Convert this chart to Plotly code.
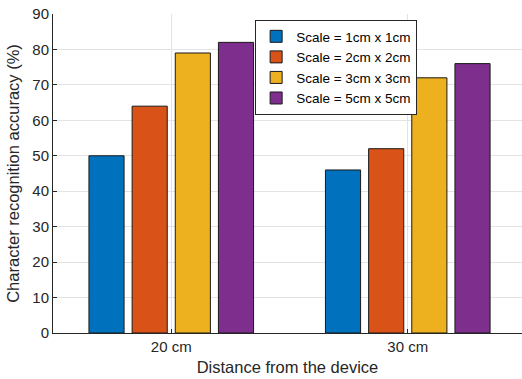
import plotly.graph_objects as go

categories = ["20 cm", "30 cm"]
series_names = ["Scale = 1cm x 1cm", "Scale = 2cm x 2cm", "Scale = 3cm x 3cm", "Scale = 5cm x 5cm"]
values_1cm = [50, 46]
values_2cm = [64, 52]
values_3cm = [79, 72]
values_5cm = [82, 76]
colors = ["#0072BD", "#D95319", "#EDB120", "#7E2F8E"]
y_ticks = [0, 10, 20, 30, 40, 50, 60, 70, 80, 90]

x_pos = [i + 1 for i in range(len(categories))]
all_vals = [values_1cm, values_2cm, values_3cm, values_5cm]

fig = go.Figure()
for name, vals, c in zip(series_names, all_vals, colors):
    fig.add_trace(go.Bar(x=x_pos, y=vals, name=name, marker=dict(color=c, line=dict(color="#1a1a1a", width=1))))

font_family = "Liberation Sans, Arial, sans-serif"
axis_col = "#262626"
fig.update_layout(
    width=522, height=379,
    margin=dict(l=53, r=0, t=14, b=46),
    paper_bgcolor="white", plot_bgcolor="white",
    barmode="group", bargap=0.27, bargroupgap=0.186,
    font=dict(family=font_family, size=15, color=axis_col),
    legend=dict(x=0.431, y=0.981, xanchor="left", yanchor="top",
                bgcolor="white", bordercolor=axis_col, borderwidth=1,
                font=dict(size=13.5, color="#000000"), tracegroupgap=0,
                itemwidth=30),
    showlegend=True,
)
fig.update_xaxes(range=[0.5, 2.483], tickvals=x_pos, ticktext=categories,
                 showgrid=True, gridcolor="#e3e3e3", gridwidth=1,
                 showline=True, linecolor=axis_col, linewidth=1,
                 ticks="inside", ticklen=4, tickcolor=axis_col,
                 tickfont=dict(size=15),
                 title=dict(text="Distance from the device", font=dict(size=16.5), standoff=7),
                 zeroline=False)
fig.update_yaxes(range=[0, 90], tickvals=y_ticks,
                 showgrid=True, gridcolor="#e3e3e3", gridwidth=1,
                 showline=True, linecolor=axis_col, linewidth=1,
                 ticks="inside", ticklen=4, tickcolor=axis_col,
                 tickfont=dict(size=15),
                 title=dict(text="Character recognition accuracy (%)", font=dict(size=16.5), standoff=8),
                 zeroline=False)
fig.write_html("out.html")
